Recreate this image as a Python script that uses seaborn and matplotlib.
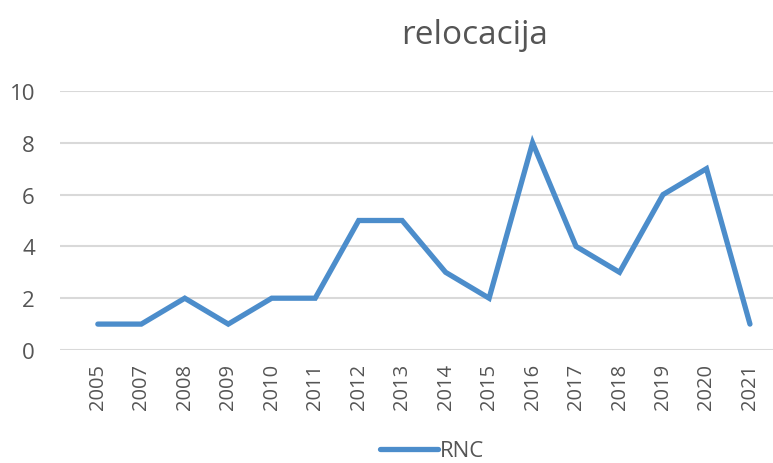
import pandas as pd
import matplotlib
matplotlib.use("Agg")
import matplotlib.pyplot as plt
import seaborn as sns

years = ["2005", "2007", "2008", "2009", "2010", "2011", "2012", "2013",
         "2014", "2015", "2016", "2017", "2018", "2019", "2020", "2021"]
rnc = [1, 1, 2, 1, 2, 2, 5, 5, 3, 2, 8, 4, 3, 6, 7, 1]

df = pd.DataFrame({"year": years, "RNC": rnc})
df["pos"] = range(len(years))

sns.set_theme(style="white")
plt.rcParams['font.family'] = ['Open Sans', 'DejaVu Sans']
text_col = "#555555"

fig = plt.figure(figsize=(7.73, 4.64), dpi=100)
ax = fig.add_axes([60 / 773, 1 - 351 / 464, 713 / 773, 259 / 464])

sns.lineplot(data=df, x="pos", y="RNC", ax=ax, color="#4C8DCB", linewidth=3.8,
             label="RNC", solid_capstyle="round", solid_joinstyle="miter")

ax.set_xlim(-0.87, 15.53)
ax.set_ylim(0, 10)
ax.set_yticks([0, 2, 4, 6, 8, 10])
ax.set_xticks(df["pos"])
ax.set_xticklabels(years, rotation=90)
ax.tick_params(axis="x", length=0, labelsize=14.5, colors=text_col, pad=9)
ax.tick_params(axis="y", length=0, labelsize=16, colors=text_col, pad=18)
ax.yaxis.grid(True, color="#D9D9D9", linewidth=1.5)
ax.set_axisbelow(True)
for s in ax.spines.values():
    s.set_visible(False)
ax.set_xlabel("")
ax.set_ylabel("")

ax.get_legend().remove()
fig.legend(*ax.get_legend_handles_labels(), loc="center",
           bbox_to_anchor=(432 / 773, 1 - 452 / 464), frameon=False,
           fontsize=16, labelcolor=text_col, handlelength=2.6, handletextpad=0.1)

fig.text(475 / 773, 1 - 35 / 464, "relocacija", ha="center", va="center",
         fontsize=24, color=text_col)

fig.savefig("out.png", dpi=100)
